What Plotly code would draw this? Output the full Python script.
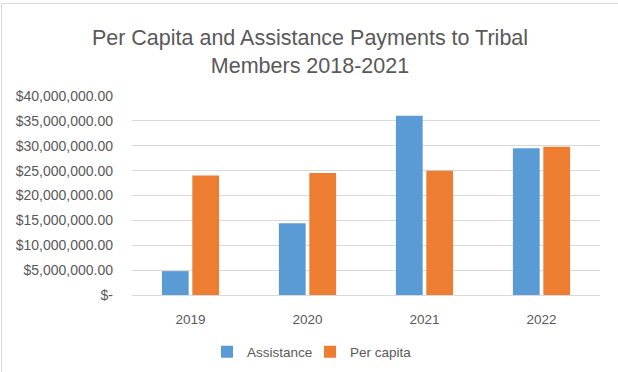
import plotly.graph_objects as go

# Payment totals by year (USD)
years = ["2019", "2020", "2021", "2022"]
assistance = [4_800_000, 14_400_000, 36_050_000, 29_500_000]
per_capita = [24_000_000, 24_500_000, 25_000_000, 29_800_000]

y_ticks = [0, 5_000_000, 10_000_000, 15_000_000, 20_000_000,
           25_000_000, 30_000_000, 35_000_000, 40_000_000]
y_tick_text = ["$-"] + [f"${v:,.2f}" for v in y_ticks[1:]]

W, H = 618, 372
L, R, T, B = 132, 18, 96, 77
pw, ph = W - L - R, H - T - B


def px_x(x):
    return (x - L) / pw


def px_y(y):
    return (H - B - y) / ph


font = "Liberation Sans, Arial, sans-serif"
grey = "#595959"

fig = go.Figure()
fig.add_trace(go.Bar(name="Assistance", x=years, y=assistance,
                     marker=dict(color="#5B9BD5", line=dict(width=0))))
fig.add_trace(go.Bar(name="Per capita", x=years, y=per_capita,
                     marker=dict(color="#ED7D31", line=dict(width=0))))

fig.update_layout(
    width=W, height=H,
    margin=dict(l=L, r=R, t=T, b=B, autoexpand=False),
    paper_bgcolor="white", plot_bgcolor="white",
    barmode="group", bargap=0.48, bargroupgap=0.12,
    font=dict(family=font, color=grey, size=13),
    title=dict(text="Per Capita and Assistance Payments to Tribal<br>Members 2018-2021",
               x=310 / W, xanchor="center", y=1 - 45 / H, yanchor="middle",
               font=dict(size=21.5, color=grey, family=font)),
    showlegend=True,
    legend=dict(orientation="h", x=px_x(310), xanchor="center",
                y=px_y(352), yanchor="middle",
                font=dict(size=13.5, color=grey), itemwidth=30,
                entrywidth=58, traceorder="normal"),
    xaxis=dict(showgrid=False, showline=False, zeroline=False,
               tickfont=dict(size=13.5, color=grey), ticks="",
               ticklabelstandoff=14),
    yaxis=dict(range=[0, 40_000_000], tickvals=y_ticks, ticktext=y_tick_text,
               showgrid=True, gridcolor="#D9D9D9", gridwidth=1,
               zeroline=True, zerolinecolor="#D9D9D9", zerolinewidth=1,
               showline=False, ticks="", ticklabelstandoff=18,
               tickfont=dict(size=14, color=grey)),
    shapes=[
        dict(type="line", xref="paper", yref="paper",
             x0=px_x(1.5), x1=px_x(1.5), y0=px_y(3.5), y1=px_y(H + 2),
             line=dict(color="#D9D9D9", width=1)),
        dict(type="line", xref="paper", yref="paper",
             x0=px_x(1.5), x1=px_x(W + 2), y0=px_y(3.5), y1=px_y(3.5),
             line=dict(color="#D9D9D9", width=1)),
    ],
)

fig.write_html("out.html")
